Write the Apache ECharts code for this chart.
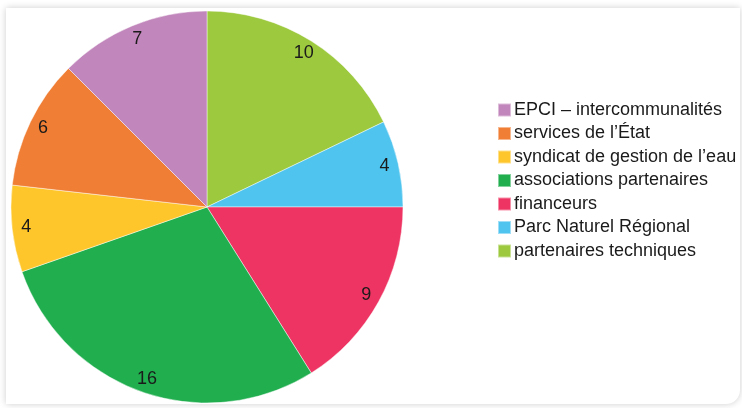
<!DOCTYPE html>
<html>
<head>
<meta charset="utf-8">
<script src="https://cdn.jsdelivr.net/npm/echarts@6/dist/echarts.min.js"></script>
<style>
  html, body { margin: 0; padding: 0; background: #ffffff; width: 742px; height: 408px; overflow: hidden; }
  #card {
    position: absolute; left: 6px; top: 8px; width: 734px; height: 396px;
    background: #ffffff; border-radius: 0 0 14px 0;
    box-shadow: 0 0 7px rgba(0,0,0,0.2);
  }
  #chart { position: absolute; left: 0; top: 0; width: 742px; height: 408px; }
</style>
</head>
<body>
<div id="card"></div>
<div id="chart"></div>
<script>
// Slices, clockwise from 12 o'clock
const categories = [
  'partenaires techniques',
  'Parc Naturel Régional',
  'financeurs',
  'associations partenaires',
  'syndicat de gestion de l\u2019eau',
  'services de l\u2019État',
  'EPCI \u2013 intercommunalités'
];
const values = [10, 4, 9, 16, 4, 6, 7];
const colors = ['#9cc93e', '#4fc4ee', '#ee3462', '#20ae4f', '#fec62a', '#f07e34', '#c186bb'];
// Legend lists the groups in the reverse order
const legendOrder = categories.slice().reverse();

const pieData = categories.map((name, i) => ({ name, value: values[i], itemStyle: { color: colors[i] } }));

const chart = echarts.init(document.getElementById('chart'), null, { renderer: 'canvas' });
const center = [207, 207];
const font = 'Liberation Sans, Arial, sans-serif';
chart.setOption({
  animation: false,
  backgroundColor: 'transparent',
  textStyle: { fontFamily: font },
  legend: {
    orient: 'vertical',
    left: 497,
    top: 101,
    padding: 0,
    data: legendOrder,
    icon: 'rect',
    itemWidth: 13,
    itemHeight: 13,
    itemGap: 5.5,
    selectedMode: false,
    textStyle: { fontSize: 18, color: '#1a1a1a', fontFamily: font, padding: [0, 0, 0, -2] }
  },
  series: [
    {
      type: 'pie',
      center: center,
      radius: [0, 196],
      startAngle: 90,
      clockwise: true,
      silent: true,
      data: pieData,
      label: { show: false },
      labelLine: { show: false },
      itemStyle: { borderColor: 'rgba(255,255,255,0.45)', borderWidth: 1 }
    },
    {
      // value labels placed near the rim
      type: 'pie',
      center: center,
      radius: [162, 196],
      startAngle: 90,
      clockwise: true,
      silent: true,
      data: categories.map((name, i) => ({ name, value: values[i] })),
      itemStyle: { color: 'rgba(0,0,0,0)', borderWidth: 0 },
      label: {
        show: true,
        position: 'inside',
        formatter: '{c}',
        fontSize: 18,
        color: '#1a1a1a',
        fontFamily: font
      },
      labelLine: { show: false }
    }
  ]
});
</script>
</body>
</html>
